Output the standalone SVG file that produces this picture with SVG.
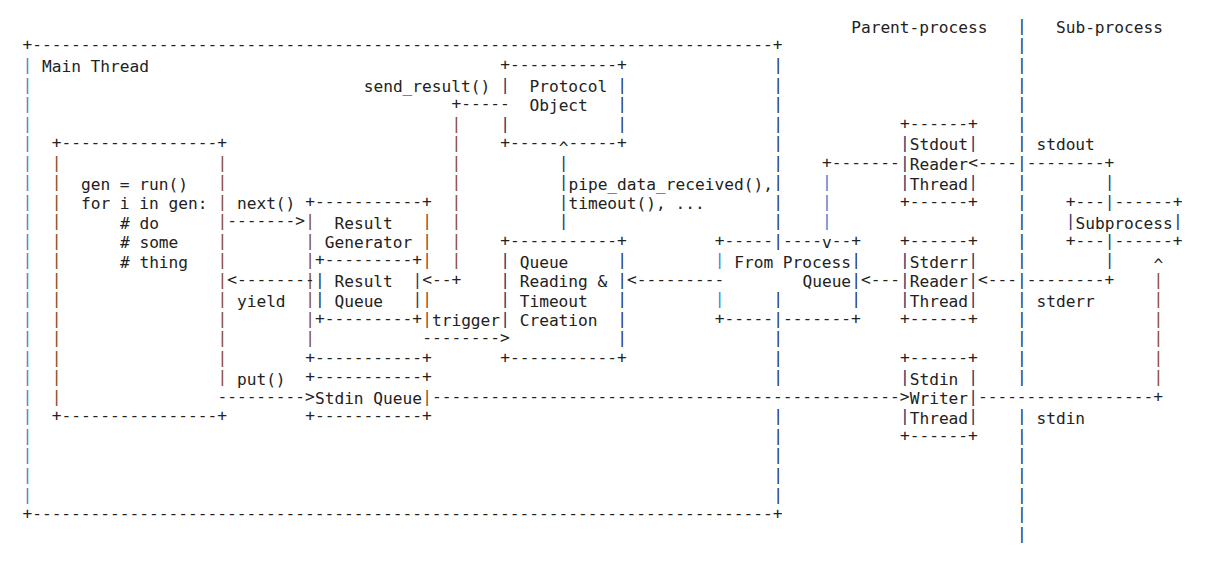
<svg xmlns="http://www.w3.org/2000/svg" width="1210" height="566" viewBox="0 0 1210 566">
<style>
text{font-family:"DejaVu Sans Mono","Liberation Mono",monospace;font-size:16.195px;fill:#222;white-space:pre}
.ln{transform:translate(0px,-2.3px)}
.car{transform:translate(0px,2.5px)}
.b{fill:#3a86d4}
.o{fill:#8a4a1c}
.n{fill:#2b3566}
</style>
<rect width="1210" height="566" fill="#fff"/>

<!-- process boundary: parent on the left, child on the right -->
<g id="process-divider">
<text x="851.15" y="33.3">Parent-process</text>
<text x="1055.9" y="33.3">Sub-process</text>
<text class="ln n" x="1016.9 1016.9 1016.9 1016.9 1016.9 1016.9 1016.9 1016.9 1016.9 1016.9 1016.9 1016.9 1016.9 1016.9 1016.9 1016.9 1016.9 1016.9 1016.9 1016.9 1016.9 1016.9 1016.9 1016.9 1016.9 1016.9" y="33.3 52.8 72.3 91.9 111.4 130.9 150.4 170.0 189.5 209.0 228.5 248.1 267.6 287.1 306.6 326.2 345.7 365.2 384.7 423.8 443.3 462.8 482.4 501.9 521.4 540.9">||||||||||||||||||||||||||</text>
</g>

<!-- main thread frame -->
<g id="main-thread">
<text class="ln" x="22.4" y="52.8">+----------------------------------------------------------------------------+</text>
<text class="ln" x="22.4" y="521.4">+----------------------------------------------------------------------------+</text>
<text class="ln b" x="22.4 22.4 22.4 22.4 22.4 22.4 22.4 22.4 22.4 22.4 22.4 22.4 22.4 22.4 22.4 22.4 22.4 22.4 22.4 22.4 22.4 22.4 22.4" y="72.3 91.9 111.4 130.9 150.4 170.0 189.5 209.0 228.5 248.1 267.6 287.1 306.6 326.2 345.7 365.2 384.7 404.3 423.8 443.3 462.8 482.4 501.9">|||||||||||||||||||||||</text>
<text class="ln n" x="773.15 773.15 773.15 773.15 773.15 773.15 773.15 773.15 773.15 773.15 773.15 773.15 773.15 773.15 773.15 773.15 773.15 773.15 773.15 773.15" y="72.3 91.9 111.4 130.9 150.4 170.0 189.5 209.0 228.5 248.1 306.6 326.2 345.7 365.2 384.7 423.8 443.3 462.8 482.4 501.9">||||||||||||||||||||</text>
<text x="41.9" y="72.3">Main Thread</text>
</g>

<!-- generator loop in user code -->
<g id="gen-loop">
<text class="ln" x="51.65" y="150.4">+----------------+</text>
<text class="ln" x="51.65" y="423.8">+----------------+</text>
<text class="ln o" x="51.65 51.65 51.65 51.65 51.65 51.65 51.65 51.65 51.65 51.65 51.65 51.65 51.65" y="170.0 189.5 209.0 228.5 248.1 267.6 287.1 306.6 326.2 345.7 365.2 384.7 404.3">|||||||||||||</text>
<text class="ln o" x="217.4 217.4 217.4 217.4 217.4 217.4 217.4 217.4 217.4 217.4 217.4 217.4" y="170.0 189.5 209.0 228.5 248.1 267.6 287.1 306.6 326.2 345.7 365.2 384.7">||||||||||||</text>
<text x="80.9" y="189.5">gen = run()</text>
<text x="80.9" y="209.0">for i in gen:</text>
<text x="119.9" y="228.5"># do</text>
<text x="119.9" y="248.1"># some</text>
<text x="119.9" y="267.6"># thing</text>
</g>

<g id="result-generator">
<text class="ln" x="305.15" y="209.0">+-----------+</text>
<text class="ln" x="305.15" y="365.2">+-----------+</text>
<text class="ln o" x="305.15 305.15 305.15 305.15 305.15 305.15 305.15" y="228.5 248.1 267.6 287.1 306.6 326.2 345.7">|||||||</text>
<text class="ln o" x="422.15 422.15 422.15 422.15 422.15" y="228.5 248.1 267.6 306.6 326.2">|||||</text>
<text x="334.4" y="228.5">Result</text>
<text x="324.65" y="248.1">Generator</text>
</g>

<g id="result-queue">
<text class="ln" x="314.9" y="267.6">+---------+</text>
<text class="ln" x="314.9" y="326.2">+---------+</text>
<text class="ln n" x="314.9 314.9" y="287.1 306.6">||</text>
<text class="ln n" x="412.4 412.4" y="287.1 306.6">||</text>
<text x="334.4" y="287.1">Result</text>
<text x="334.4" y="306.6">Queue</text>
</g>

<g id="stdin-queue">
<text class="ln" x="305.15" y="384.7">+-----------+</text>
<text class="ln" x="305.15" y="423.8">+-----------+</text>
<text class="ln o" x="422.15" y="404.3">|</text>
<text x="314.9" y="404.3">Stdin Queue</text>
</g>

<g id="protocol-object">
<text class="ln" x="500.15" y="72.3">+-----------+</text>
<text class="ln" x="500.15" y="150.4">+-----</text>
<text class="ln" x="568.4" y="150.4">-----+</text>
<text class="ln n" x="500.15 500.15" y="91.9 130.9">||</text>
<text class="ln n" x="617.15 617.15 617.15" y="91.9 111.4 130.9">|||</text>
<text x="529.4" y="91.9">Protocol</text>
<text x="529.4" y="111.4">Object</text>
</g>

<g id="queue-reading">
<text class="ln" x="500.15" y="248.1">+-----------+</text>
<text class="ln" x="500.15" y="365.2">+-----------+</text>
<text class="ln n" x="500.15 500.15 500.15 500.15" y="267.6 287.1 306.6 326.2">||||</text>
<text class="ln n" x="617.15 617.15 617.15 617.15 617.15" y="267.6 287.1 306.6 326.2 345.7">|||||</text>
<text x="519.65" y="267.6">Queue</text>
<text x="519.65" y="287.1">Reading &amp;</text>
<text x="519.65" y="306.6">Timeout</text>
<text x="519.65" y="326.2">Creation</text>
</g>

<g id="from-process-queue">
<text class="ln" x="714.65" y="248.1">+-----</text>
<text class="ln" x="782.9" y="248.1">----</text>
<text class="ln" x="831.65" y="248.1">--+</text>
<text class="ln" x="714.65" y="326.2">+-----</text>
<text class="ln" x="782.9" y="326.2">-------+</text>
<text class="ln b" x="714.65 714.65" y="267.6 306.6">||</text>
<text class="ln n" x="851.15 851.15 851.15" y="267.6 287.1 306.6">|||</text>
<text x="734.15" y="267.6">From Process</text>
<text x="802.4" y="287.1">Queue</text>
</g>

<g id="stdout-reader">
<text class="ln" x="899.9" y="130.9">+------+</text>
<text class="ln" x="899.9" y="209.0">+------+</text>
<text class="ln n" x="899.9 899.9 899.9" y="150.4 170.0 189.5">|||</text>
<text class="ln n" x="968.15 968.15" y="150.4 189.5">||</text>
<text x="909.65" y="150.4">Stdout</text>
<text x="909.65" y="170.0">Reader</text>
<text x="909.65" y="189.5">Thread</text>
</g>

<g id="stderr-reader">
<text class="ln" x="899.9" y="248.1">+------+</text>
<text class="ln" x="899.9" y="326.2">+------+</text>
<text class="ln n" x="899.9 899.9 899.9" y="267.6 287.1 306.6">|||</text>
<text class="ln n" x="968.15 968.15 968.15" y="267.6 287.1 306.6">|||</text>
<text x="909.65" y="267.6">Stderr</text>
<text x="909.65" y="287.1">Reader</text>
<text x="909.65" y="306.6">Thread</text>
</g>

<g id="stdin-writer">
<text class="ln" x="899.9" y="365.2">+------+</text>
<text class="ln" x="899.9" y="443.3">+------+</text>
<text class="ln n" x="899.9 899.9" y="384.7 423.8">||</text>
<text class="ln n" x="968.15 968.15 968.15" y="384.7 404.3 423.8">|||</text>
<text x="909.65" y="384.7">Stdin</text>
<text x="909.65" y="404.3">Writer</text>
<text x="909.65" y="423.8">Thread</text>
</g>

<g id="subprocess">
<text class="ln" x="1065.65" y="209.0">+---</text>
<text class="ln" x="1114.4" y="209.0">------+</text>
<text class="ln" x="1065.65" y="248.1">+---</text>
<text class="ln" x="1114.4" y="248.1">------+</text>
<text class="ln n" x="1065.65" y="228.5">|</text>
<text class="ln n" x="1172.9" y="228.5">|</text>
<text x="1075.4" y="228.5">Subprocess</text>
</g>

<g id="connectors">
<!-- send_result(): protocol object -> result queue -->
<text x="363.65" y="91.9">send_result()</text>
<text class="ln" x="451.4" y="111.4">+-----</text>
<text class="ln o" x="451.4 451.4 451.4 451.4 451.4 451.4 451.4 451.4" y="130.9 150.4 170.0 189.5 209.0 228.5 248.1 267.6">||||||||</text>
<text class="ln" x="422.15" y="287.1">&lt;--+</text>
<!-- callbacks from the queue reader into the protocol object -->
<text class="car" x="558.65" y="150.4">^</text>
<text class="ln n" x="558.65 558.65 558.65 558.65" y="170.0 189.5 209.0 228.5">||||</text>
<text x="568.4" y="189.5">pipe_data_received(),</text>
<text x="568.4" y="209.0">timeout(), ...</text>
<!-- next() / yield between the loop and the generator -->
<text x="236.9" y="209.0">next()</text>
<text class="ln" x="227.15" y="228.5">-------&gt;</text>
<text class="ln" x="227.15" y="287.1">&lt;--------</text>
<text x="236.9" y="306.6">yield</text>
<!-- trigger -->
<text x="431.9" y="326.2">trigger</text>
<text class="ln" x="422.15" y="345.7">--------&gt;</text>
<!-- from process queue -> queue reading -->
<text class="ln" x="626.9" y="287.1">&lt;---------</text>
<!-- stdout path -->
<text class="ln" x="821.9" y="170.0">+-------</text>
<text class="ln" x="968.15" y="170.0">&lt;----</text>
<text class="ln" x="1026.65" y="170.0">--------+</text>
<text class="ln b" x="821.9 821.9 821.9" y="189.5 209.0 228.5">|||</text>
<text x="821.9" y="248.1">v</text>
<text class="ln n" x="1104.65 1104.65 1104.65 1104.65" y="189.5 209.0 248.1 267.6">||||</text>
<text x="1036.4" y="150.4">stdout</text>
<!-- stderr path -->
<text class="ln" x="860.9" y="287.1">&lt;---</text>
<text class="ln" x="977.9" y="287.1">&lt;---</text>
<text class="ln" x="1026.65" y="287.1">--------+</text>
<text x="1036.4" y="306.6">stderr</text>
<!-- stdin path -->
<text x="236.9" y="384.7">put()</text>
<text class="ln" x="217.4" y="404.3">---------&gt;</text>
<text class="ln" x="431.9" y="404.3">------------------------------------------------&gt;</text>
<text class="ln" x="977.9" y="404.3">------------------+</text>
<text class="ln o" x="1153.4 1153.4 1153.4 1153.4 1153.4 1153.4" y="287.1 306.6 326.2 345.7 365.2 384.7">||||||</text>
<text class="car" x="1153.4" y="267.6">^</text>
<text x="1036.4" y="423.8">stdin</text>
</g>
</svg>
